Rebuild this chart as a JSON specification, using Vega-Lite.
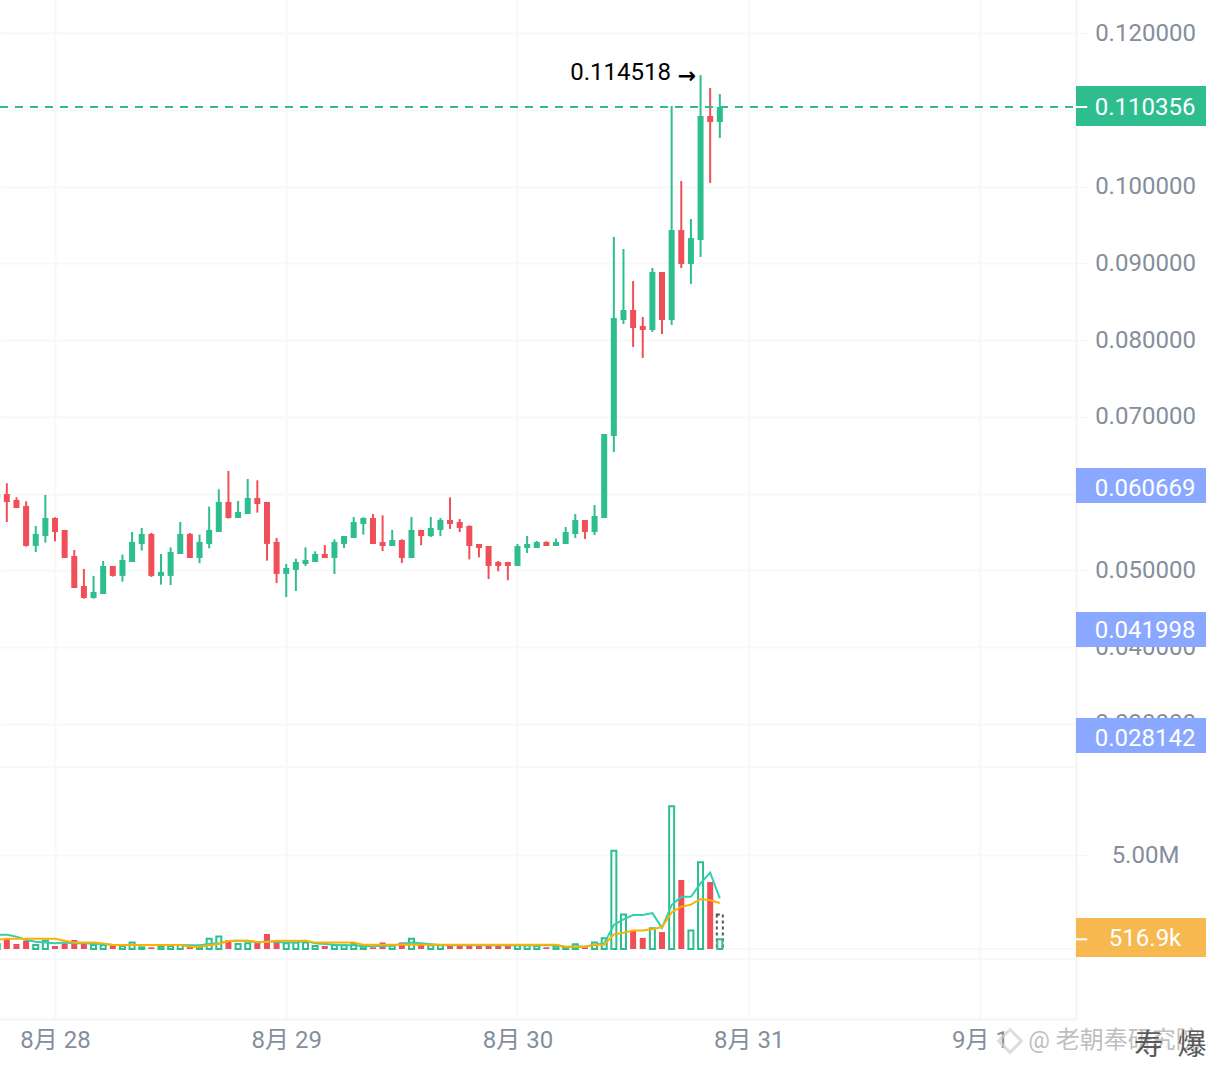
{
"$schema":"https://vega.github.io/schema/vega-lite/v6.json",
"width":1076,"height":1019,
"autosize":{"type":"none"},
"padding":{"left":0,"top":0,"right":130,"bottom":47},
"background":"#ffffff",
"config":{"font":"Roboto, Noto Sans CJK SC","view":{"stroke":null}},
"datasets":{
"tags":[
{"t":"2025-09-01T09:58:00Z","t2":"2025-09-02T23:40:00Z","tx":"2025-09-01T17:08:00Z","tk":"2025-09-01T11:08:00Z","top":0.1131,"bottom":0.10788,"price":0.110356,"label":"0.110356","kind":"last"},
{"t":"2025-09-01T09:58:00Z","t2":"2025-09-02T23:40:00Z","tx":"2025-09-01T17:08:00Z","tk":"2025-09-01T09:58:00Z","top":0.06332,"bottom":0.05876,"price":0.060669,"label":"0.060669","kind":"ma"},
{"t":"2025-09-01T09:58:00Z","t2":"2025-09-02T23:40:00Z","tx":"2025-09-01T17:08:00Z","tk":"2025-09-01T09:58:00Z","top":0.04456,"bottom":0.04,"price":0.04215,"label":"0.041998","kind":"ma"},
{"t":"2025-09-01T09:58:00Z","t2":"2025-09-02T23:40:00Z","tx":"2025-09-01T17:08:00Z","tk":"2025-09-01T09:58:00Z","top":0.03075,"bottom":0.02619,"price":0.028142,"label":"0.028142","kind":"ma"}
],
"notes":[
{"t":"2025-08-30T15:56:00Z","price":0.1149,"label":"0.114518","kind":"hi"},
{"t":"2025-09-01T05:00:00Z","price":-0.01133,"label":"@ 老朝奉研究院","kind":"wm"}
],
"overlay":[
{"t":"2025-09-01T17:30:00Z","price":-0.012,"label":"寿"},
{"t":"2025-09-01T22:00:00Z","price":-0.012,"label":"爆"}
],
"panes":[{"volume":9680000},{"volume":-530000},{"volume":-10}]
},
"data":{"values":[
{"t":"2025-08-27T18:00:00Z","open":0.05942,"high":0.05994,"low":0.05942,"close":0.05994,"volume":270000,"ma5":760000,"ma10":480000},
{"t":"2025-08-27T19:00:00Z","open":0.05994,"high":0.06133,"low":0.05629,"close":0.0589,"volume":570000,"ma5":760000,"ma10":550000},
{"t":"2025-08-27T20:00:00Z","open":0.05916,"high":0.05951,"low":0.05812,"close":0.05812,"volume":270000,"ma5":660000,"ma10":550000},
{"t":"2025-08-27T21:00:00Z","open":0.05838,"high":0.05898,"low":0.05308,"close":0.05317,"volume":440000,"ma5":480000,"ma10":550000},
{"t":"2025-08-27T22:00:00Z","open":0.05317,"high":0.05577,"low":0.05238,"close":0.05473,"volume":210000,"ma5":390000,"ma10":550000},
{"t":"2025-08-27T23:00:00Z","open":0.05447,"high":0.05981,"low":0.0536,"close":0.05681,"volume":440000,"ma5":340000,"ma10":550000},
{"t":"2025-08-28T00:00:00Z","open":0.05681,"high":0.0569,"low":0.05377,"close":0.05499,"volume":160000,"ma5":300000,"ma10":550000},
{"t":"2025-08-28T01:00:00Z","open":0.05525,"high":0.05525,"low":0.0516,"close":0.0516,"volume":300000,"ma5":340000,"ma10":440000},
{"t":"2025-08-28T02:00:00Z","open":0.05186,"high":0.05264,"low":0.04769,"close":0.04769,"volume":480000,"ma5":300000,"ma10":340000},
{"t":"2025-08-28T03:00:00Z","open":0.04795,"high":0.05017,"low":0.0463,"close":0.04639,"volume":270000,"ma5":300000,"ma10":340000},
{"t":"2025-08-28T04:00:00Z","open":0.04639,"high":0.04926,"low":0.0463,"close":0.04717,"volume":210000,"ma5":280000,"ma10":340000},
{"t":"2025-08-28T05:00:00Z","open":0.04691,"high":0.05121,"low":0.04691,"close":0.05056,"volume":210000,"ma5":270000,"ma10":300000},
{"t":"2025-08-28T06:00:00Z","open":0.05056,"high":0.05056,"low":0.04917,"close":0.04926,"volume":160000,"ma5":210000,"ma10":210000},
{"t":"2025-08-28T07:00:00Z","open":0.04926,"high":0.05204,"low":0.04852,"close":0.05134,"volume":160000,"ma5":210000,"ma10":210000},
{"t":"2025-08-28T08:00:00Z","open":0.05108,"high":0.05499,"low":0.05108,"close":0.05369,"volume":340000,"ma5":210000,"ma10":210000},
{"t":"2025-08-28T09:00:00Z","open":0.05343,"high":0.05551,"low":0.05256,"close":0.05473,"volume":90000,"ma5":210000,"ma10":210000},
{"t":"2025-08-28T10:00:00Z","open":0.05473,"high":0.05486,"low":0.04913,"close":0.04926,"volume":90000,"ma5":210000,"ma10":210000},
{"t":"2025-08-28T11:00:00Z","open":0.04926,"high":0.05212,"low":0.04813,"close":0.04978,"volume":120000,"ma5":210000,"ma10":210000},
{"t":"2025-08-28T12:00:00Z","open":0.04926,"high":0.05299,"low":0.04808,"close":0.05238,"volume":160000,"ma5":210000,"ma10":210000},
{"t":"2025-08-28T13:00:00Z","open":0.05212,"high":0.05629,"low":0.05212,"close":0.05473,"volume":210000,"ma5":210000,"ma10":210000},
{"t":"2025-08-28T14:00:00Z","open":0.05473,"high":0.05486,"low":0.0516,"close":0.0516,"volume":120000,"ma5":200000,"ma10":120000},
{"t":"2025-08-28T15:00:00Z","open":0.0516,"high":0.05464,"low":0.05091,"close":0.05369,"volume":120000,"ma5":200000,"ma10":120000},
{"t":"2025-08-28T16:00:00Z","open":0.05343,"high":0.05829,"low":0.05286,"close":0.05525,"volume":550000,"ma5":270000,"ma10":200000},
{"t":"2025-08-28T17:00:00Z","open":0.05499,"high":0.06055,"low":0.05499,"close":0.0589,"volume":660000,"ma5":300000,"ma10":270000},
{"t":"2025-08-28T18:00:00Z","open":0.0589,"high":0.06294,"low":0.05673,"close":0.05681,"volume":480000,"ma5":430000,"ma10":430000},
{"t":"2025-08-28T19:00:00Z","open":0.05681,"high":0.05903,"low":0.05681,"close":0.05759,"volume":270000,"ma5":440000,"ma10":440000},
{"t":"2025-08-28T20:00:00Z","open":0.05733,"high":0.06189,"low":0.05733,"close":0.05942,"volume":300000,"ma5":440000,"ma10":440000},
{"t":"2025-08-28T21:00:00Z","open":0.05942,"high":0.06172,"low":0.05751,"close":0.05864,"volume":340000,"ma5":340000,"ma10":370000},
{"t":"2025-08-28T22:00:00Z","open":0.0589,"high":0.0589,"low":0.05125,"close":0.05343,"volume":800000,"ma5":410000,"ma10":370000},
{"t":"2025-08-28T23:00:00Z","open":0.05369,"high":0.05421,"low":0.04834,"close":0.04952,"volume":440000,"ma5":370000,"ma10":440000},
{"t":"2025-08-29T00:00:00Z","open":0.04952,"high":0.05082,"low":0.04652,"close":0.0503,"volume":300000,"ma5":340000,"ma10":440000},
{"t":"2025-08-29T01:00:00Z","open":0.05004,"high":0.05151,"low":0.0473,"close":0.05108,"volume":340000,"ma5":340000,"ma10":440000},
{"t":"2025-08-29T02:00:00Z","open":0.05082,"high":0.05299,"low":0.05056,"close":0.05134,"volume":340000,"ma5":440000,"ma10":440000},
{"t":"2025-08-29T03:00:00Z","open":0.05108,"high":0.05247,"low":0.05108,"close":0.05212,"volume":160000,"ma5":300000,"ma10":340000},
{"t":"2025-08-29T04:00:00Z","open":0.05212,"high":0.05329,"low":0.0516,"close":0.0516,"volume":160000,"ma5":270000,"ma10":340000},
{"t":"2025-08-29T05:00:00Z","open":0.0516,"high":0.05403,"low":0.04951,"close":0.05368,"volume":200000,"ma5":230000,"ma10":340000},
{"t":"2025-08-29T06:00:00Z","open":0.05342,"high":0.05446,"low":0.0529,"close":0.05446,"volume":200000,"ma5":200000,"ma10":340000},
{"t":"2025-08-29T07:00:00Z","open":0.0542,"high":0.05694,"low":0.0542,"close":0.05629,"volume":270000,"ma5":200000,"ma10":340000},
{"t":"2025-08-29T08:00:00Z","open":0.05603,"high":0.0569,"low":0.05464,"close":0.05681,"volume":120000,"ma5":160000,"ma10":230000},
{"t":"2025-08-29T09:00:00Z","open":0.05681,"high":0.05733,"low":0.05342,"close":0.05342,"volume":90000,"ma5":160000,"ma10":230000},
{"t":"2025-08-29T10:00:00Z","open":0.05368,"high":0.05716,"low":0.05251,"close":0.05316,"volume":350000,"ma5":160000,"ma10":230000},
{"t":"2025-08-29T11:00:00Z","open":0.05316,"high":0.05525,"low":0.05316,"close":0.05394,"volume":180000,"ma5":180000,"ma10":230000},
{"t":"2025-08-29T12:00:00Z","open":0.05394,"high":0.05403,"low":0.05095,"close":0.0516,"volume":350000,"ma5":270000,"ma10":230000},
{"t":"2025-08-29T13:00:00Z","open":0.0516,"high":0.05694,"low":0.0516,"close":0.05525,"volume":550000,"ma5":350000,"ma10":230000},
{"t":"2025-08-29T14:00:00Z","open":0.05525,"high":0.05525,"low":0.05325,"close":0.05446,"volume":230000,"ma5":300000,"ma10":230000},
{"t":"2025-08-29T15:00:00Z","open":0.05446,"high":0.05694,"low":0.05433,"close":0.05551,"volume":200000,"ma5":250000,"ma10":230000},
{"t":"2025-08-29T16:00:00Z","open":0.05525,"high":0.05681,"low":0.05446,"close":0.05655,"volume":200000,"ma5":210000,"ma10":230000},
{"t":"2025-08-29T17:00:00Z","open":0.05655,"high":0.0595,"low":0.05538,"close":0.05603,"volume":180000,"ma5":200000,"ma10":230000},
{"t":"2025-08-29T18:00:00Z","open":0.05629,"high":0.05668,"low":0.05498,"close":0.05551,"volume":180000,"ma5":200000,"ma10":230000},
{"t":"2025-08-29T19:00:00Z","open":0.05577,"high":0.05585,"low":0.05142,"close":0.05316,"volume":180000,"ma5":200000,"ma10":230000},
{"t":"2025-08-29T20:00:00Z","open":0.05342,"high":0.05342,"low":0.05168,"close":0.0529,"volume":180000,"ma5":200000,"ma10":230000},
{"t":"2025-08-29T21:00:00Z","open":0.05316,"high":0.05316,"low":0.04886,"close":0.05056,"volume":180000,"ma5":200000,"ma10":230000},
{"t":"2025-08-29T22:00:00Z","open":0.05108,"high":0.05121,"low":0.04986,"close":0.05056,"volume":180000,"ma5":200000,"ma10":230000},
{"t":"2025-08-29T23:00:00Z","open":0.05108,"high":0.05108,"low":0.04869,"close":0.05056,"volume":180000,"ma5":200000,"ma10":230000},
{"t":"2025-08-30T00:00:00Z","open":0.05056,"high":0.05342,"low":0.05056,"close":0.05316,"volume":200000,"ma5":200000,"ma10":230000},
{"t":"2025-08-30T01:00:00Z","open":0.0529,"high":0.05446,"low":0.05225,"close":0.05342,"volume":200000,"ma5":200000,"ma10":230000},
{"t":"2025-08-30T02:00:00Z","open":0.0529,"high":0.05381,"low":0.0529,"close":0.05368,"volume":160000,"ma5":200000,"ma10":230000},
{"t":"2025-08-30T03:00:00Z","open":0.05368,"high":0.05377,"low":0.05316,"close":0.05316,"volume":90000,"ma5":200000,"ma10":230000},
{"t":"2025-08-30T04:00:00Z","open":0.05316,"high":0.05412,"low":0.05316,"close":0.05368,"volume":120000,"ma5":200000,"ma10":230000},
{"t":"2025-08-30T05:00:00Z","open":0.05342,"high":0.05564,"low":0.05342,"close":0.05498,"volume":90000,"ma5":110000,"ma10":120000},
{"t":"2025-08-30T06:00:00Z","open":0.05472,"high":0.05733,"low":0.0542,"close":0.05655,"volume":250000,"ma5":140000,"ma10":120000},
{"t":"2025-08-30T07:00:00Z","open":0.05655,"high":0.05655,"low":0.05407,"close":0.05499,"volume":90000,"ma5":120000,"ma10":120000},
{"t":"2025-08-30T08:00:00Z","open":0.05499,"high":0.0585,"low":0.0546,"close":0.05707,"volume":350000,"ma5":230000,"ma10":230000},
{"t":"2025-08-30T09:00:00Z","open":0.05681,"high":0.06775,"low":0.05681,"close":0.06775,"volume":570000,"ma5":300000,"ma10":230000},
{"t":"2025-08-30T10:00:00Z","open":0.06749,"high":0.09342,"low":0.06541,"close":0.08287,"volume":5230000,"ma5":1280000,"ma10":780000},
{"t":"2025-08-30T11:00:00Z","open":0.08261,"high":0.09186,"low":0.08209,"close":0.08391,"volume":1830000,"ma5":1580000,"ma10":870000},
{"t":"2025-08-30T12:00:00Z","open":0.08391,"high":0.08769,"low":0.07909,"close":0.08156,"volume":1010000,"ma5":1810000,"ma10":980000},
{"t":"2025-08-30T13:00:00Z","open":0.08183,"high":0.083,"low":0.07766,"close":0.0813,"volume":590000,"ma5":1810000,"ma10":980000},
{"t":"2025-08-30T14:00:00Z","open":0.0813,"high":0.08938,"low":0.08104,"close":0.08886,"volume":1100000,"ma5":1910000,"ma10":1050000},
{"t":"2025-08-30T15:00:00Z","open":0.08886,"high":0.08886,"low":0.08078,"close":0.08261,"volume":900000,"ma5":1130000,"ma10":1170000},
{"t":"2025-08-30T16:00:00Z","open":0.08261,"high":0.11049,"low":0.08196,"close":0.09433,"volume":7590000,"ma5":2340000,"ma10":1950000},
{"t":"2025-08-30T17:00:00Z","open":0.09433,"high":0.10072,"low":0.08938,"close":0.0899,"volume":3670000,"ma5":2780000,"ma10":2250000},
{"t":"2025-08-30T18:00:00Z","open":0.0899,"high":0.09577,"low":0.0873,"close":0.09329,"volume":980000,"ma5":2780000,"ma10":2360000},
{"t":"2025-08-30T19:00:00Z","open":0.09303,"high":0.114518,"low":0.09082,"close":0.10919,"volume":4610000,"ma5":3490000,"ma10":2660000},
{"t":"2025-08-30T20:00:00Z","open":0.10919,"high":0.11283,"low":0.10046,"close":0.1084,"volume":3560000,"ma5":4060000,"ma10":2590000},
{"t":"2025-08-30T21:00:00Z","open":0.1084,"high":0.11205,"low":0.10632,"close":0.110356,"volume":516900,"ma5":2690000,"ma10":2450000,"projected":1830000}
]},
"encoding":{"x":{"field":"t","type":"temporal","scale":{"type":"utc","padding":0,"domain":["2025-08-27T18:17:30Z","2025-09-01T09:58:00Z"]},
"axis":{"title":null,"orient":"bottom","values":["2025-08-28T00:00:00Z","2025-08-29T00:00:00Z","2025-08-30T00:00:00Z","2025-08-31T00:00:00Z","2025-09-01T00:00:00Z"],"labelExpr":"utcFormat(datum.value,'%-m月 %-d')","labelFontSize":24,"labelColor":"#848e9c","labelPadding":9,"tickSize":0,"grid":true,"gridColor":"#f7f8fa","gridWidth":2,"domainColor":"#f3f4f6","domainWidth":2,"labelFlush":false,"labelOverlap":false}}},
"resolve":{"scale":{"y":"independent"},"axis":{"y":"independent"}},
"layer":[
{"layer":[
{"mark":{"type":"rule","strokeWidth":2,"clip":true},
"encoding":{"y":{"field":"high","type":"quantitative","scale":{"domain":[-0.008469,0.1243],"nice":false,"zero":false,"padding":0},
"axis":{"title":null,"orient":"right","values":[0.03,0.04,0.05,0.06,0.07,0.08,0.09,0.1,0.11,0.12],"format":".6f","labelFontSize":24,"labelColor":"#848e9c","labelAlign":"center","labelPadding":58,"tickSize":11,"tickColor":"#f3f4f6","tickWidth":1,"grid":true,"gridColor":"#f7f8fa","gridWidth":2,"domainColor":"#f3f4f6","domainWidth":2,"labelOverlap":false}},
"y2":{"field":"low"},
"color":{"condition":{"test":"datum.close>=datum.open","value":"#2ebd8f"},"value":"#f04e58"}}},
{"mark":{"type":"bar","width":6,"clip":true},
"encoding":{"y":{"field":"open","type":"quantitative","stack":null,"axis":{"title":null,"orient":"right"}},"y2":{"field":"close"},
"color":{"condition":{"test":"datum.close>=datum.open","value":"#2ebd8f"},"value":"#f04e58"}}},
{"data":{"values":[{"price":0.110356}]},"mark":{"type":"rule","stroke":"#2ebd8f","strokeWidth":2,"strokeDash":[8,7]},
"encoding":{"x":{"value":0},"x2":{"value":1076},"y":{"field":"price","type":"quantitative","axis":{"title":null,"orient":"right"}}}},
{"data":{"name":"tags"},"mark":{"type":"rect"},
"encoding":{"x":{"field":"t","type":"temporal","axis":{"title":null}},"x2":{"field":"t2"},"y":{"field":"top","type":"quantitative","axis":{"title":null,"orient":"right"}},"y2":{"field":"bottom"},
"color":{"field":"kind","type":"nominal","scale":{"domain":["last","ma"],"range":["#2ebd8f","#8aa8ff"]},"legend":null}}},
{"data":{"name":"tags"},"transform":[{"filter":"datum.kind=='last'"}],"mark":{"type":"rule","stroke":"#ffffff","strokeWidth":2},
"encoding":{"x":{"field":"t","type":"temporal","axis":{"title":null}},"x2":{"field":"tk"},"y":{"field":"price","type":"quantitative","axis":{"title":null,"orient":"right"}}}},
{"data":{"name":"tags"},"mark":{"type":"text","fontSize":24,"color":"#ffffff","align":"center","baseline":"middle","font":"Roboto","dy":1},
"encoding":{"x":{"field":"tx","type":"temporal","axis":{"title":null}},"y":{"field":"price","type":"quantitative","axis":{"title":null,"orient":"right"}},"text":{"field":"label"}}},
{"data":{"name":"notes"},"mark":{"type":"text","fontSize":24,"align":"left","baseline":"middle","font":"Roboto, Noto Sans CJK SC"},
"transform":[{"filter":"datum.kind=='wm'"}],
"encoding":{"x":{"field":"t","type":"temporal","axis":{"title":null}},"y":{"field":"price","type":"quantitative","axis":{"title":null,"orient":"right"}},"text":{"field":"label"},"color":{"value":"#bfbfbf"}}},
{"data":{"name":"notes"},"mark":{"type":"text","fontSize":24,"align":"right","baseline":"middle","font":"Roboto","dy":1},
"transform":[{"filter":"datum.kind=='hi'"}],
"encoding":{"x":{"field":"t","type":"temporal","axis":{"title":null}},"y":{"field":"price","type":"quantitative","axis":{"title":null,"orient":"right"}},"text":{"field":"label"},"color":{"value":"#000000"}}},
{"data":{"values":[{"t":"2025-08-30T17:36:00Z","price":0.11445,"label":"→"}]},"mark":{"type":"text","fontSize":22,"fontWeight":"bold","align":"center","baseline":"middle","font":"DejaVu Sans"},
"encoding":{"x":{"field":"t","type":"temporal","axis":{"title":null}},"y":{"field":"price","type":"quantitative","axis":{"title":null,"orient":"right"}},"text":{"field":"label"},"color":{"value":"#000000"}}},
{"data":{"values":[{"t":"2025-09-01T03:07:00Z","price":-0.01133}]},"mark":{"type":"point","shape":"diamond","size":520,"filled":false,"stroke":"#cfcfcf","strokeWidth":3},
"encoding":{"x":{"field":"t","type":"temporal","axis":{"title":null}},"y":{"field":"price","type":"quantitative","axis":{"title":null,"orient":"right"}}}},
{"data":{"name":"overlay"},"mark":{"type":"text","fontSize":29,"align":"center","baseline":"middle","font":"Noto Sans CJK SC"},
"encoding":{"x":{"field":"t","type":"temporal","axis":{"title":null}},"y":{"field":"price","type":"quantitative","axis":{"title":null,"orient":"right"}},"text":{"field":"label"},"color":{"value":"#5a5a5a"}}}
]},
{"layer":[
{"data":{"name":"panes"},"mark":{"type":"rule","stroke":"#f7f8fa","strokeWidth":2},
"encoding":{"x":{"value":0},"x2":{"value":1076},"y":{"field":"volume","type":"quantitative","scale":{"domain":[-3723000,50480000],"nice":false,"zero":false,"padding":0},
"axis":{"title":null,"orient":"right","values":[5000000],"labelExpr":"format(datum.value/1000000,'.2f')+'M'","labelFontSize":24,"labelColor":"#848e9c","labelAlign":"center","labelPadding":58,"tickSize":11,"tickColor":"#f3f4f6","grid":true,"gridColor":"#f7f8fa","gridWidth":2,"domain":false,"labelOverlap":false}}}},
{"mark":{"type":"bar","width":6,"fill":"#ffffff","stroke":"#555555","strokeWidth":2,"strokeDash":[3,3]},
"encoding":{"y":{"field":"projected","type":"quantitative","stack":null,"axis":{"title":null,"orient":"right"}},"y2":{"datum":0}}},
{"transform":[{"filter":"datum.close<datum.open"}],"mark":{"type":"bar","width":6,"fill":"#f04e58","clip":true},
"encoding":{"y":{"field":"volume","type":"quantitative","stack":null,"axis":{"title":null,"orient":"right"}},"y2":{"datum":0}}},
{"transform":[{"filter":"datum.close>=datum.open"}],"mark":{"type":"bar","width":5,"fill":"#ffffff","fillOpacity":0,"stroke":"#2ebd8f","strokeWidth":2,"clip":true},
"encoding":{"y":{"field":"volume","type":"quantitative","stack":null,"axis":{"title":null,"orient":"right"}},"y2":{"datum":0}}},
{"mark":{"type":"line","stroke":"#2fd0b0","strokeWidth":2,"clip":true,"interpolate":"linear"},
"encoding":{"y":{"field":"ma5","type":"quantitative","axis":{"title":null,"orient":"right"}}}},
{"mark":{"type":"line","stroke":"#ffb000","strokeWidth":2,"clip":true,"interpolate":"linear"},
"encoding":{"y":{"field":"ma10","type":"quantitative","axis":{"title":null,"orient":"right"}}}},
{"data":{"values":[{"t":"2025-09-01T09:58:00Z","t2":"2025-09-02T23:40:00Z","tk":"2025-09-01T11:08:00Z","tx":"2025-09-01T17:08:00Z","top":1649000,"bottom":-426000,"volume":516900,"label":"516.9k"}]},
"layer":[
{"mark":{"type":"rect","fill":"#f7b84f"},"encoding":{"x":{"field":"t","type":"temporal","axis":{"title":null}},"x2":{"field":"t2"},"y":{"field":"top","type":"quantitative","axis":{"title":null,"orient":"right"}},"y2":{"field":"bottom"}}},
{"mark":{"type":"rule","stroke":"#ffffff","strokeWidth":2},"encoding":{"x":{"field":"t","type":"temporal","axis":{"title":null}},"x2":{"field":"tk"},"y":{"field":"volume","type":"quantitative","axis":{"title":null,"orient":"right"}}}},
{"mark":{"type":"text","fontSize":24,"color":"#ffffff","align":"center","baseline":"middle","font":"Roboto"},"encoding":{"x":{"field":"tx","type":"temporal","axis":{"title":null}},"y":{"field":"volume","type":"quantitative","axis":{"title":null,"orient":"right"}},"text":{"field":"label"}}}
]}
]}
]
}
